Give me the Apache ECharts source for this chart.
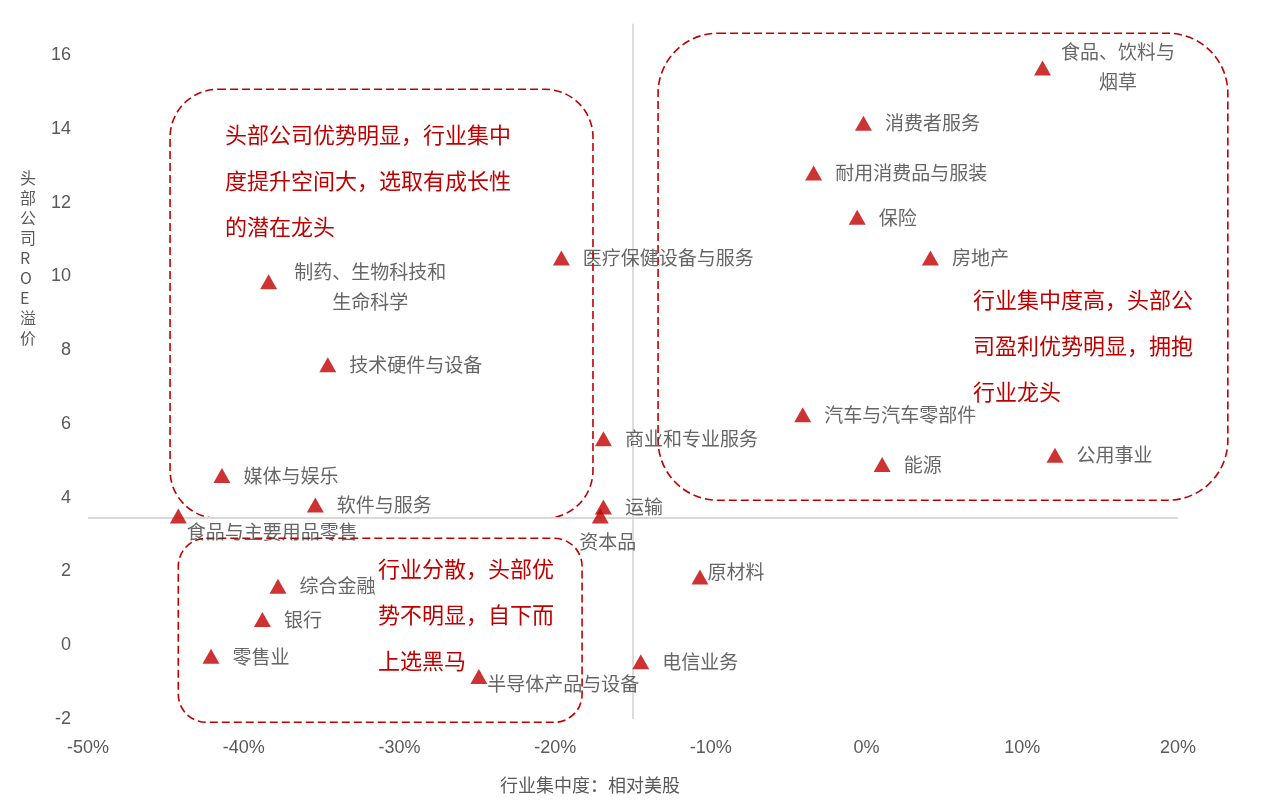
<!DOCTYPE html>
<html>
<head>
<meta charset="utf-8">
<script src="https://cdn.jsdelivr.net/npm/echarts@6/dist/echarts.min.js"></script>
<style>
html,body{margin:0;padding:0;background:#fff}
#main{width:1268px;height:804px}
</style>
</head>
<body>
<div id="main"></div>
<script>
// 行业集中度(相对美股, %) vs 头部公司ROE溢价
var industries = ['食品、饮料与烟草','消费者服务','耐用消费品与服装','保险','房地产','医疗保健设备与服务',
    '制药、生物科技和生命科学','技术硬件与设备','汽车与汽车零部件','商业和专业服务','公用事业','能源',
    '媒体与娱乐','软件与服务','运输','资本品','食品与主要用品零售','原材料','综合金融','银行','零售业',
    '电信业务','半导体产品与设备'];
var concentration = [11.3,-0.2,-3.4,-0.6,4.1,-19.6,-38.4,-34.6,-4.1,-16.9,12.1,1.0,-41.4,-35.4,-16.9,-17.1,
    -44.2,-10.7,-37.8,-38.8,-42.1,-14.5,-24.9];
var roePremium = [15.65,14.15,12.8,11.6,10.5,10.5,9.85,7.6,6.25,5.6,5.15,4.9,4.6,3.8,3.75,3.5,3.5,1.85,1.6,
    0.7,-0.3,-0.45,-0.85];
var xTicks = [-50,-40,-30,-20,-10,0,10,20];
var yTicks = [-2,0,2,4,6,8,10,12,14,16];
var crossX = -15;     // 竖向分隔线
var crossY = 3.45;    // 横向分隔线
var crossTop = 16.85;

var notes = [
    '头部公司优势明显，行业集中\n度提升空间大，选取有成长性\n的潜在龙头',
    '行业集中度高，头部公\n司盈利优势明显，拥抱\n行业龙头',
    '行业分散，头部优\n势不明显，自下而\n上选黑马'
];

var wrap = {
    '食品、饮料与烟草': '食品、饮料与\n烟草',
    '制药、生物科技和生命科学': '制药、生物科技和\n生命科学'
};
var labelPos = {
    '食品、饮料与烟草': {position: [84, 6], align: 'center'},
    '制药、生物科技和生命科学': {position: [110, 12], align: 'center'},
    '食品与主要用品零售': {position: [17, 23], align: 'left'},
    '资本品': {position: [16, 33], align: 'center'},
    '半导体产品与设备': {position: [17, 15], align: 'left'},
    '原材料': {position: [16, 2], align: 'left'}
};

var red = '#c00000';
var cjk = '"Noto Sans CJK SC", sans-serif';
var num = '"Liberation Sans Narrow", "Liberation Sans", sans-serif';

var points = industries.map(function (n, i) {
    var item = {name: n, value: [concentration[i], roePremium[i]]};
    if (labelPos[n]) {
        item.label = {position: labelPos[n].position, align: labelPos[n].align, verticalAlign: 'middle'};
    }
    return item;
});

var myChart = echarts.init(document.getElementById('main'));
option = {
    animation: false,
    backgroundColor: '#fff',
    grid: {left: 88, right: 90, top: 55, bottom: 85},
    xAxis: {
        type: 'value',
        min: xTicks[0], max: xTicks[xTicks.length - 1], interval: 10,
        axisLine: {show: false}, axisTick: {show: false}, splitLine: {show: false},
        axisLabel: {formatter: '{value}%', color: '#595959', fontSize: 18, fontFamily: num, margin: 20}
    },
    yAxis: {
        type: 'value',
        min: yTicks[0], max: yTicks[yTicks.length - 1], interval: 2,
        axisLine: {show: false}, axisTick: {show: false}, splitLine: {show: false},
        axisLabel: {color: '#595959', fontSize: 18, fontFamily: num, margin: 17}
    },
    series: [
        {
            type: 'line', silent: true, clip: false, symbol: 'none',
            lineStyle: {color: '#d9d9d9', width: 2},
            data: [[xTicks[0], crossY], [xTicks[xTicks.length - 1], crossY]]
        },
        {
            type: 'line', silent: true, clip: false, symbol: 'none',
            lineStyle: {color: '#d0d0d0', width: 1.5},
            data: [[crossX, yTicks[0]], [crossX, crossTop]]
        },
        {
            type: 'scatter',
            symbol: 'triangle',
            symbolSize: [17, 15],
            itemStyle: {color: '#c00000'},
            z: 5,
            label: {
                show: true,
                position: 'right',
                distance: 13,
                color: '#404040',
                fontSize: 19,
                lineHeight: 30,
                fontFamily: cjk,
                formatter: function (p) { return wrap[p.name] || p.name; }
            },
            data: points
        }
    ]
};
myChart.setOption(option);

// 虚线圆角框（数据坐标）
var boxes = [
    {from: [-44.73, 15.07], to: [-17.57, 3.44], r: 48},
    {from: [-13.39, 16.59], to: [23.2, 3.93], r: 60},
    {from: [-44.2, 2.9], to: [-18.27, -2.09], r: 28}
];
var graphics = boxes.map(function (b) {
    var p0 = myChart.convertToPixel({gridIndex: 0}, b.from);
    var p1 = myChart.convertToPixel({gridIndex: 0}, b.to);
    return {
        type: 'rect', silent: true, z: 1,
        shape: {x: p0[0], y: p0[1], width: p1[0] - p0[0], height: p1[1] - p0[1], r: b.r},
        style: {fill: 'none', stroke: red, lineWidth: 1.6, lineDash: [8, 4]}
    };
});
var noteAt = [[225, 112], [973, 277], [378, 546]];
notes.forEach(function (t, i) {
    graphics.push({
        type: 'text', silent: true, z: 10,
        left: noteAt[i][0], top: noteAt[i][1],
        style: {text: t, fill: red, fontSize: 22, lineHeight: 46, fontFamily: cjk}
    });
});
graphics.push({
    type: 'text', silent: true,
    left: 20, top: 168,
    style: {text: '头\n部\n公\n司\nR\nO\nE\n溢\n价', fill: '#595959', fontSize: 16, lineHeight: 20,
        fontFamily: cjk, align: 'center'}
});
graphics.push({
    type: 'text', silent: true,
    left: 500, top: 776,
    style: {text: '行业集中度：相对美股', fill: '#595959', fontSize: 18, fontFamily: cjk}
});
myChart.setOption({graphic: graphics});
</script>
</body>
</html>
